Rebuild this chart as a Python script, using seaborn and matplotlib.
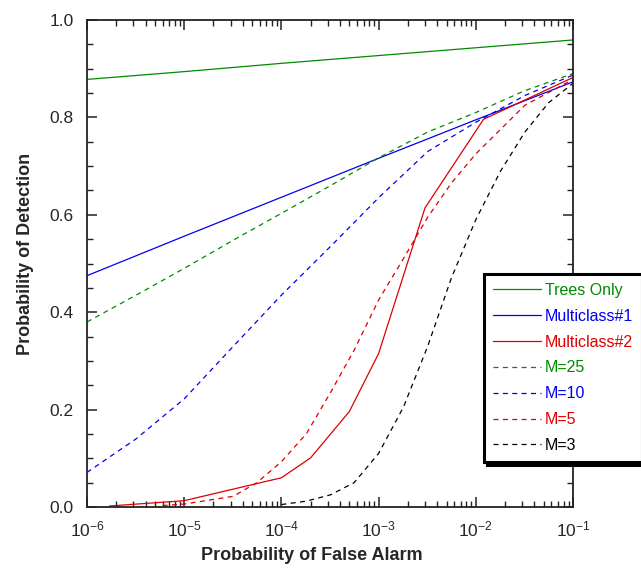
import numpy as np
import pandas as pd
import matplotlib
matplotlib.use("Agg")
import matplotlib.pyplot as plt
import matplotlib.ticker as mticker
import seaborn as sns

# ROC-style curves (x = P(false alarm), y = P(detection))
trees_x = [1e-6, 1e-5, 1e-4, 1e-3, 1e-2, 1e-1]
trees_y = [0.878, 0.894, 0.911, 0.927, 0.943, 0.959]

mc1_x = [1e-6, 1e-5, 1e-4, 1e-3, 1e-2, 1e-1]
mc1_y = [0.475, 0.556, 0.636, 0.716, 0.795, 0.873]

mc2_x = [1.7e-6, 1e-5, 1e-4, 2e-4, 5e-4, 1e-3, 3e-3, 1.2e-2, 1e-1]
mc2_y = [0.002, 0.013, 0.060, 0.101, 0.196, 0.315, 0.614, 0.796, 0.882]

m25_x = [1e-6, 3.2e-6, 1e-5, 3.2e-5, 1e-4, 3.2e-4, 1e-3, 3.2e-3, 1e-2, 3.2e-2, 1e-1]
m25_y = [0.380, 0.435, 0.490, 0.548, 0.603, 0.660, 0.717, 0.770, 0.810, 0.855, 0.890]

m10_x = [1e-6, 3.2e-6, 1e-5, 3.2e-5, 1e-4, 3.2e-4, 1e-3, 3.2e-3, 1e-2, 3.2e-2, 1e-1]
m10_y = [0.071, 0.140, 0.222, 0.330, 0.435, 0.535, 0.635, 0.730, 0.790, 0.845, 0.887]

m5_x = [6e-6, 1e-5, 3.2e-5, 5.6e-5, 1e-4, 1.8e-4, 3.2e-4, 5.6e-4, 1e-3, 1.8e-3,
        3.2e-3, 5.6e-3, 1e-2, 3.2e-2, 1e-1]
m5_y = [0.003, 0.006, 0.022, 0.050, 0.093, 0.150, 0.235, 0.322, 0.425, 0.510,
        0.595, 0.665, 0.725, 0.825, 0.878]

m3_x = [1e-4, 1.8e-4, 3.2e-4, 5.6e-4, 1e-3, 1.8e-3, 3.2e-3, 5.6e-3, 1e-2, 1.8e-2,
        3.2e-2, 5.6e-2, 1e-1]
m3_y = [0.005, 0.012, 0.025, 0.050, 0.110, 0.205, 0.330, 0.470, 0.590, 0.690,
        0.770, 0.830, 0.870]

names = ["Trees Only", "Multiclass#1", "Multiclass#2", "M=25", "M=10", "M=5", "M=3"]
xs = [trees_x, mc1_x, mc2_x, m25_x, m10_x, m5_x, m3_x]
ys = [trees_y, mc1_y, mc2_y, m25_y, m10_y, m5_y, m3_y]

green, blue, red = "#008a00", "#0000ee", "#dd0000"
colors = {"Trees Only": green, "Multiclass#1": blue, "Multiclass#2": red,
          "M=25": green, "M=10": blue, "M=5": red, "M=3": "black"}
dash = (4, 3.5)
dashes = {"Trees Only": "", "Multiclass#1": "", "Multiclass#2": "",
          "M=25": dash, "M=10": dash, "M=5": dash, "M=3": dash}

df = pd.concat([pd.DataFrame({"series": n, "far": x, "pd": y})
                for n, x, y in zip(names, xs, ys)], ignore_index=True)

sns.set_theme(style="ticks")
plt.rcParams["font.family"] = ["Liberation Sans", "DejaVu Sans"]
plt.rcParams["mathtext.fontset"] = "custom"
plt.rcParams["mathtext.rm"] = "Liberation Sans"
plt.rcParams["mathtext.it"] = "Liberation Sans:italic"
plt.rcParams["mathtext.bf"] = "Liberation Sans:bold"

fig = plt.figure(figsize=(6.41, 5.69), dpi=100)
ax = fig.add_axes([87 / 641, 1 - 507 / 569, 486 / 641, 487 / 569])

sns.lineplot(data=df, x="far", y="pd", hue="series", style="series",
             hue_order=names, style_order=names, palette=colors, dashes=dashes,
             estimator=None, sort=False, linewidth=0.9, ax=ax)

ax.set_xscale("log")
ax.set_xlim(1e-6, 1e-1)
ax.set_ylim(0, 1)
ax.xaxis.set_major_locator(mticker.LogLocator(base=10, numticks=10))
ax.xaxis.set_minor_locator(mticker.LogLocator(base=10, subs=np.arange(2, 10), numticks=20))
ax.xaxis.set_major_formatter(mticker.LogFormatterSciNotation())
ax.xaxis.set_minor_formatter(mticker.NullFormatter())
ax.yaxis.set_major_locator(mticker.MultipleLocator(0.2))
ax.yaxis.set_minor_locator(mticker.MultipleLocator(0.05))
ax.yaxis.set_major_formatter(mticker.FormatStrFormatter("%.1f"))

for s in ax.spines.values():
    s.set_color("#222222")
    s.set_linewidth(1.3)
ax.tick_params(which="both", direction="in", top=True, right=True, color="#222222")
ax.tick_params(which="major", length=7, width=1.1, labelsize=12.5)
ax.tick_params(which="minor", length=4, width=1.0)
ax.tick_params(axis="x", which="major", pad=9)
ax.tick_params(axis="y", which="major", pad=9.5)

ax.set_xlabel("Probability of False Alarm", fontsize=13, fontweight="bold")
ax.set_ylabel("Probability of Detection", fontsize=13, fontweight="bold")
ax.xaxis.set_label_coords(0.462, -0.082)
ax.yaxis.set_label_coords(-0.109, 0.5195)

handles, labels = ax.get_legend_handles_labels()
leg = ax.legend(handles, labels, loc="upper left",
                bbox_to_anchor=(484 / 641, 1 - 274 / 569),
                bbox_transform=fig.transFigure, borderaxespad=0, fontsize=11.5,
                handlelength=3.0, handletextpad=0.25, labelspacing=0.68,
                borderpad=0.55, fancybox=False, framealpha=1,
                shadow={"color": "black", "alpha": 1.0})
leg.get_frame().set_edgecolor("black")
leg.get_frame().set_linewidth(2.2)
for txt, n in zip(leg.get_texts(), labels):
    txt.set_color(colors[n])

fig.savefig("out.png", dpi=100)
